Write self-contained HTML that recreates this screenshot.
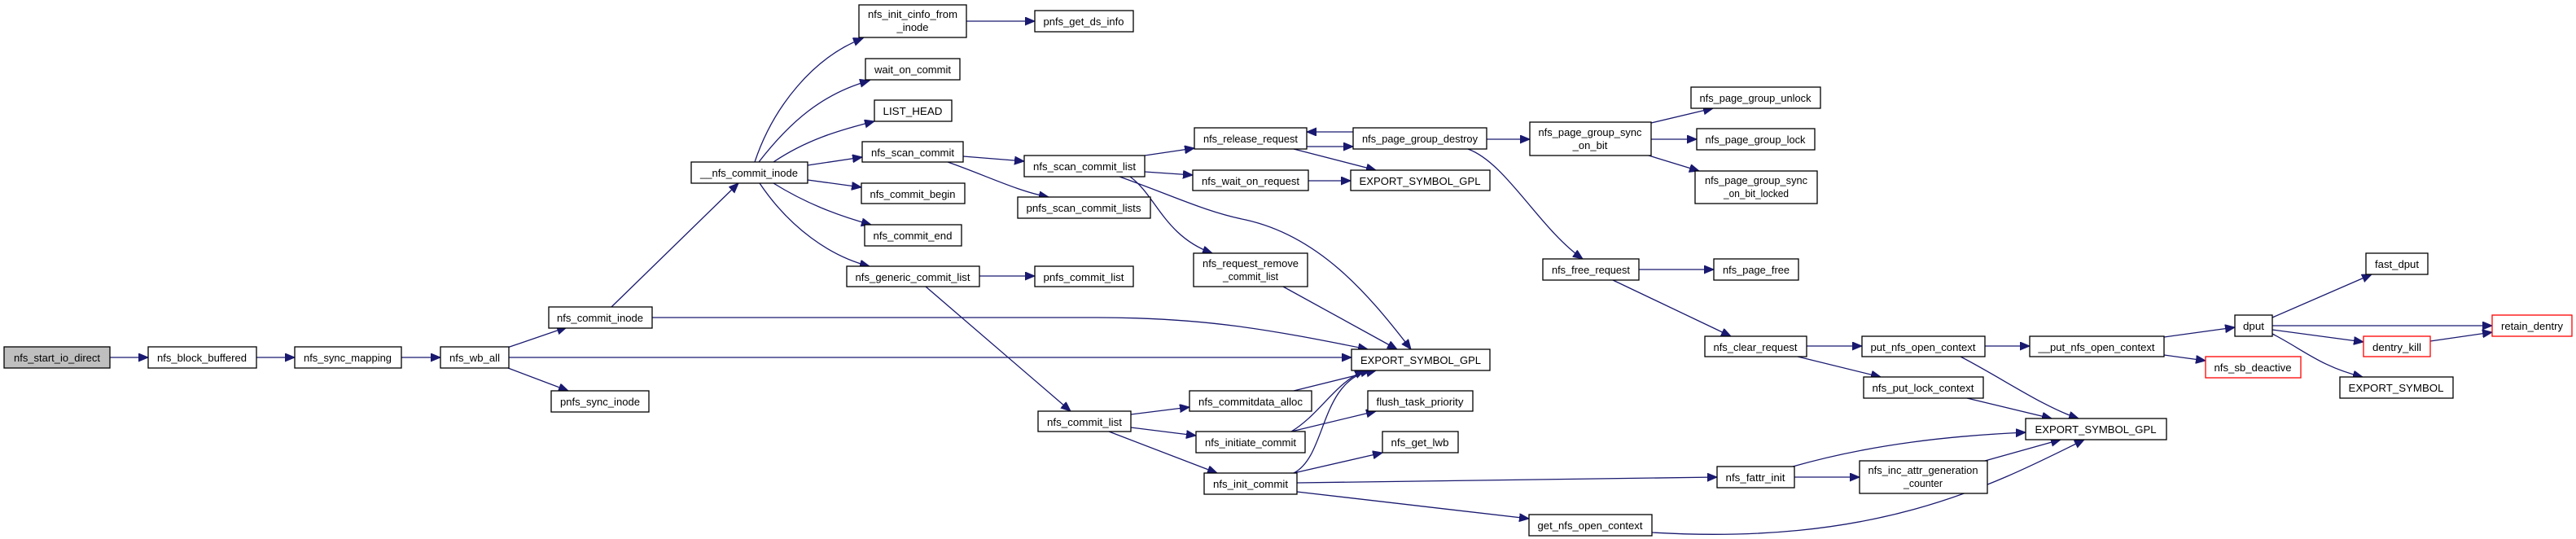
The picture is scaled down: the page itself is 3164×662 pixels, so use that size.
<!DOCTYPE html>
<html><head><meta charset="utf-8"><style>
html,body{margin:0;padding:0;background:#fff;}
svg{display:block;}
text{font-family:"Liberation Sans",sans-serif;font-size:13px;fill:#000;}
.e{fill:none;stroke:#191970;stroke-width:1.3;}
.n{fill:#fff;stroke:#000;stroke-width:1.3;}
.r{fill:#fff;stroke:#ff0000;stroke-width:1.3;}
</style></head><body>
<svg width="3164" height="662" viewBox="0 0 3164 662" xmlns="http://www.w3.org/2000/svg">
<defs><marker id="a" markerUnits="userSpaceOnUse" markerWidth="14" markerHeight="12" refX="12" refY="5" orient="auto"><path d="M0,0 L12,5 L0,10 Z" fill="#191970" stroke="#191970"/></marker></defs>
<g marker-end="url(#a)">
<path class="e" d="M135,439 L182,439"/>
<path class="e" d="M315,439 L362,439"/>
<path class="e" d="M493,439 L541,439"/>
<path class="e" d="M623,427 L696,402"/>
<path class="e" d="M625,439 L1660,439"/>
<path class="e" d="M624,452 L698,480"/>
<path class="e" d="M751,377 L907,225"/>
<path class="e" d="M801,390 L1348,390 C1480,390 1560,405 1680,429"/>
<path class="e" d="M927,199 C950,130 1000,70 1060,47"/>
<path class="e" d="M932,199 C970,150 1010,115 1068,99"/>
<path class="e" d="M950,199 C990,172 1030,160 1074,149"/>
<path class="e" d="M992,203 L1059,193"/>
<path class="e" d="M992,221 L1058,230"/>
<path class="e" d="M950,225 C990,250 1030,265 1070,276"/>
<path class="e" d="M933,225 C970,280 1020,315 1068,327"/>
<path class="e" d="M1187,26 L1271,26"/>
<path class="e" d="M1183,192 L1258,198"/>
<path class="e" d="M1164,199 C1210,215 1250,235 1288,242"/>
<path class="e" d="M1203,339 L1271,339"/>
<path class="e" d="M1137,352 L1315,505"/>
<path class="e" d="M1406,191 L1467,182"/>
<path class="e" d="M1406,211 L1465,215"/>
<path class="e" d="M1375,217 C1440,240 1480,260 1530,270 C1620,290 1680,360 1733,429"/>
<path class="e" d="M1388,217 C1420,240 1430,290 1489,311"/>
<path class="e" d="M1589,183 L1690,209"/>
<path class="e" d="M1662,162 L1605,162"/>
<path class="e" d="M1605,180 L1662,180"/>
<path class="e" d="M1607,222 L1659,222"/>
<path class="e" d="M1576,352 L1716,429"/>
<path class="e" d="M1826,171 L1879,171"/>
<path class="e" d="M1803,183 C1850,200 1890,280 1944,318"/>
<path class="e" d="M2028,151 L2104,133"/>
<path class="e" d="M2028,171 L2084,171"/>
<path class="e" d="M2025,191 L2087,210"/>
<path class="e" d="M2013,331 L2105,331"/>
<path class="e" d="M1981,344 L2126,413"/>
<path class="e" d="M2219,425 L2287,425"/>
<path class="e" d="M2208,438 L2310,463"/>
<path class="e" d="M2438,425 L2493,425"/>
<path class="e" d="M2408,438 C2460,465 2510,500 2553,514"/>
<path class="e" d="M2416,489 L2520,514"/>
<path class="e" d="M2658,414 L2745,402"/>
<path class="e" d="M2658,436 L2709,443"/>
<path class="e" d="M2791,390 L2913,337"/>
<path class="e" d="M2791,400 L3061,400"/>
<path class="e" d="M2791,405 L2903,420"/>
<path class="e" d="M2985,419 L3061,408"/>
<path class="e" d="M2791,410 C2830,430 2850,450 2902,463"/>
<path class="e" d="M1389,509 L1461,500"/>
<path class="e" d="M1389,525 L1469,535"/>
<path class="e" d="M1362,530 L1495,581"/>
<path class="e" d="M1589,480 L1690,455"/>
<path class="e" d="M1586,530 C1620,510 1640,470 1676,455"/>
<path class="e" d="M1586,530 L1690,505"/>
<path class="e" d="M1589,581 C1630,560 1620,470 1683,455"/>
<path class="e" d="M1589,581 L1698,556"/>
<path class="e" d="M1593,593 L2109,586"/>
<path class="e" d="M1593,604 L1878,637"/>
<path class="e" d="M2029,654 C2300,670 2440,600 2560,540"/>
<path class="e" d="M2202,573 C2300,545 2400,535 2488,531"/>
<path class="e" d="M2204,586 L2284,586"/>
<path class="e" d="M2438,566 L2531,540"/>
</g>
<g text-anchor="middle">
<rect x="5" y="426" width="130" height="26" fill="#bfbfbf" stroke="#000" stroke-width="1.3"/><text x="70" y="444" textLength="106" lengthAdjust="spacingAndGlyphs">nfs_start_io_direct</text>
<rect class="n" x="182" y="426" width="133" height="26"/><text x="248" y="444" textLength="110" lengthAdjust="spacingAndGlyphs">nfs_block_buffered</text>
<rect class="n" x="362" y="426" width="131" height="26"/><text x="427" y="444" textLength="108" lengthAdjust="spacingAndGlyphs">nfs_sync_mapping</text>
<rect class="n" x="541" y="426" width="84" height="26"/><text x="583" y="444" textLength="62" lengthAdjust="spacingAndGlyphs">nfs_wb_all</text>
<rect class="n" x="674" y="377" width="127" height="26"/><text x="737" y="395" textLength="106" lengthAdjust="spacingAndGlyphs">nfs_commit_inode</text>
<rect class="n" x="677" y="480" width="120" height="26"/><text x="737" y="498" textLength="98" lengthAdjust="spacingAndGlyphs">pnfs_sync_inode</text>
<rect class="n" x="849" y="199" width="143" height="26"/><text x="920" y="217" textLength="120" lengthAdjust="spacingAndGlyphs">__nfs_commit_inode</text>
<rect class="n" x="1055" y="6" width="132" height="40"/><text x="1121" y="22" textLength="110" lengthAdjust="spacingAndGlyphs">nfs_init_cinfo_from</text><text x="1121" y="38">_inode</text>
<rect class="n" x="1271" y="13" width="121" height="26"/><text x="1331" y="31" textLength="99" lengthAdjust="spacingAndGlyphs">pnfs_get_ds_info</text>
<rect class="n" x="1063" y="72" width="116" height="26"/><text x="1121" y="90" textLength="94" lengthAdjust="spacingAndGlyphs">wait_on_commit</text>
<rect class="n" x="1074" y="123" width="95" height="26"/><text x="1121" y="141" textLength="73" lengthAdjust="spacingAndGlyphs">LIST_HEAD</text>
<rect class="n" x="1059" y="174" width="124" height="25"/><text x="1121" y="192" textLength="102" lengthAdjust="spacingAndGlyphs">nfs_scan_commit</text>
<rect class="n" x="1058" y="225" width="127" height="25"/><text x="1121" y="243" textLength="105" lengthAdjust="spacingAndGlyphs">nfs_commit_begin</text>
<rect class="n" x="1062" y="276" width="119" height="26"/><text x="1121" y="294" textLength="97" lengthAdjust="spacingAndGlyphs">nfs_commit_end</text>
<rect class="n" x="1040" y="327" width="163" height="25"/><text x="1121" y="345" textLength="141" lengthAdjust="spacingAndGlyphs">nfs_generic_commit_list</text>
<rect class="n" x="1271" y="327" width="121" height="25"/><text x="1331" y="345" textLength="99" lengthAdjust="spacingAndGlyphs">pnfs_commit_list</text>
<rect class="n" x="1258" y="191" width="148" height="26"/><text x="1332" y="209" textLength="126" lengthAdjust="spacingAndGlyphs">nfs_scan_commit_list</text>
<rect class="n" x="1250" y="242" width="163" height="26"/><text x="1331" y="260" textLength="141" lengthAdjust="spacingAndGlyphs">pnfs_scan_commit_lists</text>
<rect class="n" x="1467" y="157" width="138" height="26"/><text x="1536" y="175" textLength="116" lengthAdjust="spacingAndGlyphs">nfs_release_request</text>
<rect class="n" x="1465" y="209" width="142" height="25"/><text x="1536" y="227" textLength="120" lengthAdjust="spacingAndGlyphs">nfs_wait_on_request</text>
<rect class="n" x="1662" y="157" width="164" height="26"/><text x="1744" y="175" textLength="142" lengthAdjust="spacingAndGlyphs">nfs_page_group_destroy</text>
<rect class="n" x="1659" y="209" width="171" height="25"/><text x="1744" y="227" textLength="149" lengthAdjust="spacingAndGlyphs">EXPORT_SYMBOL_GPL</text>
<rect class="n" x="1466" y="311" width="140" height="41"/><text x="1536" y="328" textLength="118" lengthAdjust="spacingAndGlyphs">nfs_request_remove</text><text x="1536" y="344" textLength="68" lengthAdjust="spacingAndGlyphs">_commit_list</text>
<rect class="n" x="1879" y="150" width="149" height="41"/><text x="1953" y="167" textLength="127" lengthAdjust="spacingAndGlyphs">nfs_page_group_sync</text><text x="1953" y="183">_on_bit</text>
<rect class="n" x="1895" y="318" width="118" height="26"/><text x="1954" y="336" textLength="96" lengthAdjust="spacingAndGlyphs">nfs_free_request</text>
<rect class="n" x="1660" y="429" width="170" height="26"/><text x="1745" y="447" textLength="148" lengthAdjust="spacingAndGlyphs">EXPORT_SYMBOL_GPL</text>
<rect class="n" x="1461" y="480" width="150" height="25"/><text x="1536" y="498" textLength="128" lengthAdjust="spacingAndGlyphs">nfs_commitdata_alloc</text>
<rect class="n" x="1680" y="480" width="129" height="25"/><text x="1744" y="498" textLength="107" lengthAdjust="spacingAndGlyphs">flush_task_priority</text>
<rect class="n" x="1275" y="505" width="114" height="25"/><text x="1332" y="523" textLength="92" lengthAdjust="spacingAndGlyphs">nfs_commit_list</text>
<rect class="n" x="1469" y="530" width="134" height="26"/><text x="1536" y="548" textLength="112" lengthAdjust="spacingAndGlyphs">nfs_initiate_commit</text>
<rect class="n" x="1698" y="530" width="93" height="26"/><text x="1744" y="548" textLength="71" lengthAdjust="spacingAndGlyphs">nfs_get_lwb</text>
<rect class="n" x="1479" y="581" width="114" height="26"/><text x="1536" y="599" textLength="92" lengthAdjust="spacingAndGlyphs">nfs_init_commit</text>
<rect class="n" x="1878" y="632" width="151" height="26"/><text x="1953" y="650" textLength="129" lengthAdjust="spacingAndGlyphs">get_nfs_open_context</text>
<rect class="n" x="2077" y="107" width="159" height="26"/><text x="2156" y="125" textLength="137" lengthAdjust="spacingAndGlyphs">nfs_page_group_unlock</text>
<rect class="n" x="2084" y="158" width="145" height="26"/><text x="2156" y="176" textLength="123" lengthAdjust="spacingAndGlyphs">nfs_page_group_lock</text>
<rect class="n" x="2082" y="210" width="150" height="40"/><text x="2157" y="226" textLength="126" lengthAdjust="spacingAndGlyphs">nfs_page_group_sync</text><text x="2157" y="242" textLength="80" lengthAdjust="spacingAndGlyphs">_on_bit_locked</text>
<rect class="n" x="2105" y="318" width="104" height="26"/><text x="2157" y="336" textLength="82" lengthAdjust="spacingAndGlyphs">nfs_page_free</text>
<rect class="n" x="2094" y="413" width="125" height="25"/><text x="2156" y="431" textLength="103" lengthAdjust="spacingAndGlyphs">nfs_clear_request</text>
<rect class="n" x="2287" y="413" width="151" height="25"/><text x="2362" y="431" textLength="129" lengthAdjust="spacingAndGlyphs">put_nfs_open_context</text>
<rect class="n" x="2493" y="413" width="165" height="25"/><text x="2575" y="431" textLength="143" lengthAdjust="spacingAndGlyphs">__put_nfs_open_context</text>
<rect class="n" x="2289" y="463" width="147" height="26"/><text x="2362" y="481" textLength="125" lengthAdjust="spacingAndGlyphs">nfs_put_lock_context</text>
<rect class="n" x="2488" y="514" width="173" height="26"/><text x="2574" y="532" textLength="149" lengthAdjust="spacingAndGlyphs">EXPORT_SYMBOL_GPL</text>
<rect class="n" x="2109" y="573" width="95" height="26"/><text x="2156" y="591" textLength="73" lengthAdjust="spacingAndGlyphs">nfs_fattr_init</text>
<rect class="n" x="2284" y="566" width="157" height="40"/><text x="2362" y="582" textLength="135" lengthAdjust="spacingAndGlyphs">nfs_inc_attr_generation</text><text x="2362" y="598" textLength="48" lengthAdjust="spacingAndGlyphs">_counter</text>
<rect class="n" x="2745" y="387" width="46" height="26"/><text x="2768" y="405" textLength="26" lengthAdjust="spacingAndGlyphs">dput</text>
<rect class="n" x="2906" y="311" width="76" height="26"/><text x="2944" y="329" textLength="54" lengthAdjust="spacingAndGlyphs">fast_dput</text>
<rect class="r" x="3061" y="387" width="98" height="26"/><text x="3110" y="405" textLength="76" lengthAdjust="spacingAndGlyphs">retain_dentry</text>
<rect class="r" x="2903" y="413" width="82" height="25"/><text x="2944" y="431" textLength="60" lengthAdjust="spacingAndGlyphs">dentry_kill</text>
<rect class="r" x="2709" y="438" width="117" height="26"/><text x="2767" y="456" textLength="95" lengthAdjust="spacingAndGlyphs">nfs_sb_deactive</text>
<rect class="n" x="2874" y="463" width="139" height="26"/><text x="2943" y="481" textLength="117" lengthAdjust="spacingAndGlyphs">EXPORT_SYMBOL</text>
</g>
</svg>
</body></html>
